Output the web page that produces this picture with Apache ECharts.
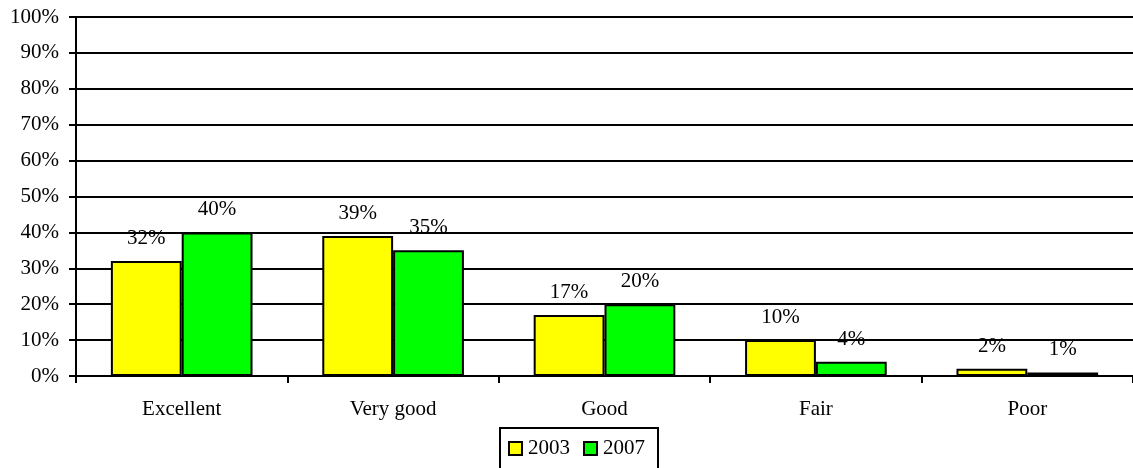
<!DOCTYPE html>
<html>
<head>
<meta charset="utf-8">
<style>
  html, body { margin: 0; padding: 0; background: #fff; }
  #chart { width: 1133px; height: 468px; }
</style>
<script src="https://cdn.jsdelivr.net/npm/echarts@6/dist/echarts.min.js"></script>
</head>
<body>
<div id="chart"></div>
<script>
// Self-rated condition, share of responses by year
const categories = ['Excellent', 'Very good', 'Good', 'Fair', 'Poor'];
const values2003 = [32, 39, 17, 10, 2];
const values2007 = [40, 35, 20, 4, 1];
const seriesNames = ['2003', '2007'];

const FONT = '"Liberation Serif", "Times New Roman", serif';

const chart = echarts.init(document.getElementById('chart'), null, { renderer: 'canvas' });

function barSeries(name, data, color) {
  return {
    name: name,
    type: 'bar',
    data: data,
    barGap: '0%',
    barCategoryGap: '33%',
    itemStyle: { color: color, borderColor: '#000', borderWidth: 2 },
    label: {
      show: true,
      position: 'top',
      distance: 12,
      formatter: '{c}%',
      color: '#000',
      fontFamily: FONT,
      fontSize: 21
    },
    emphasis: { disabled: true }
  };
}

chart.setOption({
  animation: false,
  backgroundColor: '#fff',
  grid: { left: 76, top: 17, width: 1062, height: 359 },
  legend: {
    data: seriesNames,
    left: 500,
    top: 428,
    orient: 'horizontal',
    icon: 'rect',
    itemWidth: 13,
    itemHeight: 13,
    itemGap: 13,
    padding: [10, 13, 20, 8],
    borderColor: '#000',
    borderWidth: 2,
    textStyle: { color: '#000', fontFamily: FONT, fontSize: 21, padding: [0, 0, 0, 1] },
    itemStyle: { borderColor: '#000', borderWidth: 2 }
  },
  xAxis: {
    type: 'category',
    data: categories,
    boundaryGap: true,
    axisLine: { show: true, lineStyle: { color: '#000', width: 2 } },
    axisTick: { show: true, length: 7, lineStyle: { color: '#000', width: 2 } },
    axisLabel: { color: '#000', fontFamily: FONT, fontSize: 21, margin: 23 },
    splitLine: { show: false }
  },
  yAxis: {
    type: 'value',
    min: 0,
    max: 100,
    interval: 10,
    axisLine: { show: true, lineStyle: { color: '#000', width: 2 } },
    axisTick: { show: true, inside: false, length: 7, lineStyle: { color: '#000', width: 2 } },
    axisLabel: { color: '#000', fontFamily: FONT, fontSize: 21, margin: 17, formatter: '{value}%' },
    splitLine: { show: true, lineStyle: { color: '#000', width: 2 } }
  },
  series: [
    barSeries(seriesNames[0], values2003, '#FFFF00'),
    barSeries(seriesNames[1], values2007, '#00FF00')
  ]
});
</script>
</body>
</html>
